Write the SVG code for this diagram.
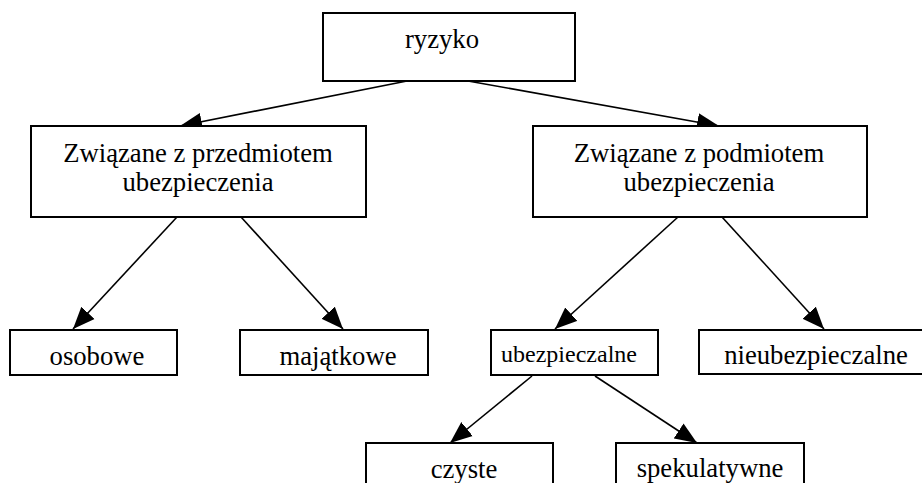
<svg xmlns="http://www.w3.org/2000/svg" width="922" height="483" viewBox="0 0 922 483">
<defs>
<style>
.box{fill:#fff;stroke:#000;stroke-width:2}
.t{font-family:"Liberation Serif","Times New Roman",serif;font-size:26.7px;fill:#000;text-anchor:middle}
.s{font-size:24px}
.c{stroke:#000;stroke-width:1.6;fill:none;marker-end:url(#ah)}
</style>
<marker id="ah" markerUnits="userSpaceOnUse" markerWidth="23" markerHeight="19" refX="22" refY="9" orient="auto" viewBox="0 0 23 18">
<path d="M0,0 L22,9 L0,18 z" fill="#000"/>
</marker>
</defs>
<rect width="922" height="483" fill="#fff"/>
<g id="connectors">
<line class="c" x1="407" y1="81" x2="180" y2="126"/>
<line class="c" x1="468" y1="81" x2="719" y2="126"/>
<line class="c" x1="177" y1="217" x2="73" y2="329"/>
<line class="c" x1="241" y1="217" x2="343" y2="329"/>
<line class="c" x1="678" y1="217" x2="555" y2="329"/>
<line class="c" x1="722" y1="217" x2="824" y2="329"/>
<line class="c" x1="532" y1="376" x2="450" y2="443"/>
<line class="c" x1="595" y1="376" x2="697" y2="443"/>
</g>
<g id="n-ryzyko">
<rect class="box" x="323" y="13" width="252" height="68"/>
<text class="t" x="442" y="48">ryzyko</text>
</g>
<g id="n-przedmiot">
<rect class="box" x="31" y="126" width="335" height="91"/>
<text class="t" x="198" y="162">Związane z przedmiotem</text>
<text class="t" x="198" y="191">ubezpieczenia</text>
</g>
<g id="n-podmiot">
<rect class="box" x="533" y="126" width="334" height="91"/>
<text class="t" x="699" y="162">Związane z podmiotem</text>
<text class="t" x="699" y="191">ubezpieczenia</text>
</g>
<g id="n-osobowe">
<rect class="box" x="10" y="330" width="167" height="45"/>
<text class="t" x="97" y="365">osobowe</text>
</g>
<g id="n-majatkowe">
<rect class="box" x="240" y="330" width="188" height="45"/>
<text class="t" x="338" y="365">majątkowe</text>
</g>
<g id="n-ubezpieczalne">
<rect class="box" x="491" y="330" width="167" height="45"/>
<text class="t s" x="569" y="362">ubezpieczalne</text>
</g>
<g id="n-nieubezpieczalne">
<rect class="box" x="699" y="330" width="230" height="44"/>
<text class="t" x="816" y="364">nieubezpieczalne</text>
</g>
<g id="n-czyste">
<rect class="box" x="366" y="443" width="187" height="60"/>
<text class="t" x="464" y="478">czyste</text>
</g>
<g id="n-spekulatywne">
<rect class="box" x="616" y="443" width="188" height="60"/>
<text class="t" x="710" y="477">spekulatywne</text>
</g>
</svg>
